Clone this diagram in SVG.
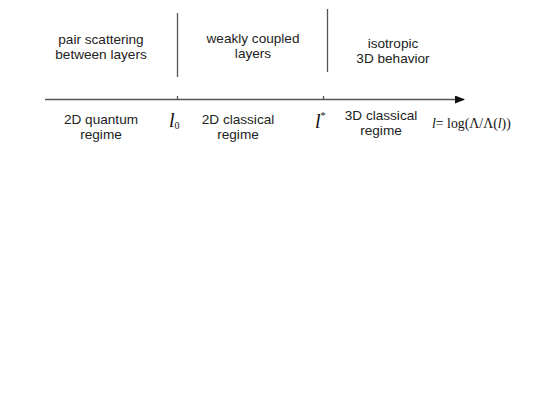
<svg xmlns="http://www.w3.org/2000/svg" width="545" height="409" viewBox="0 0 545 409">
<style>
.t{font-family:"Liberation Sans",Arial,sans-serif;font-size:13.6px;fill:#222;text-anchor:middle}
.s{font-family:"Liberation Serif","Times New Roman",serif;fill:#111}
.ln{stroke:#555;stroke-width:1.3;fill:none}
</style>
<defs>
<marker id="ah" markerWidth="10" markerHeight="8" refX="9" refY="4" orient="auto" markerUnits="userSpaceOnUse">
<path d="M0,0 L10,4 L0,8 z" fill="#111"/>
</marker>
</defs>
<rect width="545" height="409" fill="#fff"/>
<g id="connectors">
<line class="ln" x1="45" y1="99.5" x2="464" y2="99.5" marker-end="url(#ah)"/>
<line class="ln" x1="177.5" y1="13" x2="177.5" y2="77"/>
<line class="ln" x1="327.5" y1="9" x2="327.5" y2="72"/>
<line class="ln" x1="177.5" y1="96" x2="177.5" y2="99"/>
<line class="ln" x1="323.5" y1="96" x2="323.5" y2="99"/>
</g>
<g id="pair-scattering">
<text class="t" x="101" y="44">pair scattering</text>
<text class="t" x="101" y="59">between layers</text>
</g>
<g id="weakly-coupled">
<text class="t" x="253" y="43">weakly coupled</text>
<text class="t" x="253" y="58">layers</text>
</g>
<g id="isotropic">
<text class="t" x="393" y="48">isotropic</text>
<text class="t" x="393" y="63">3D behavior</text>
</g>
<g id="quantum">
<text class="t" x="101" y="124">2D quantum</text>
<text class="t" x="101" y="139">regime</text>
</g>
<g id="l0">
<text class="s" x="169" y="127" font-size="20" font-style="italic">l<tspan font-style="normal" font-size="10" dy="2">0</tspan></text>
</g>
<g id="classical2d">
<text class="t" x="238" y="124">2D classical</text>
<text class="t" x="238" y="139">regime</text>
</g>
<g id="lstar">
<text class="s" x="315" y="128" font-size="20" font-style="italic">l<tspan font-style="normal" font-size="10" dy="-9">*</tspan></text>
</g>
<g id="classical3d">
<text class="t" x="381" y="120">3D classical</text>
<text class="t" x="381" y="135">regime</text>
</g>
<g id="formula">
<text class="s" x="432" y="128" font-size="13.8"><tspan font-style="italic">l</tspan>= log(Λ/Λ(<tspan font-style="italic">l</tspan>))</text>
</g>
</svg>
